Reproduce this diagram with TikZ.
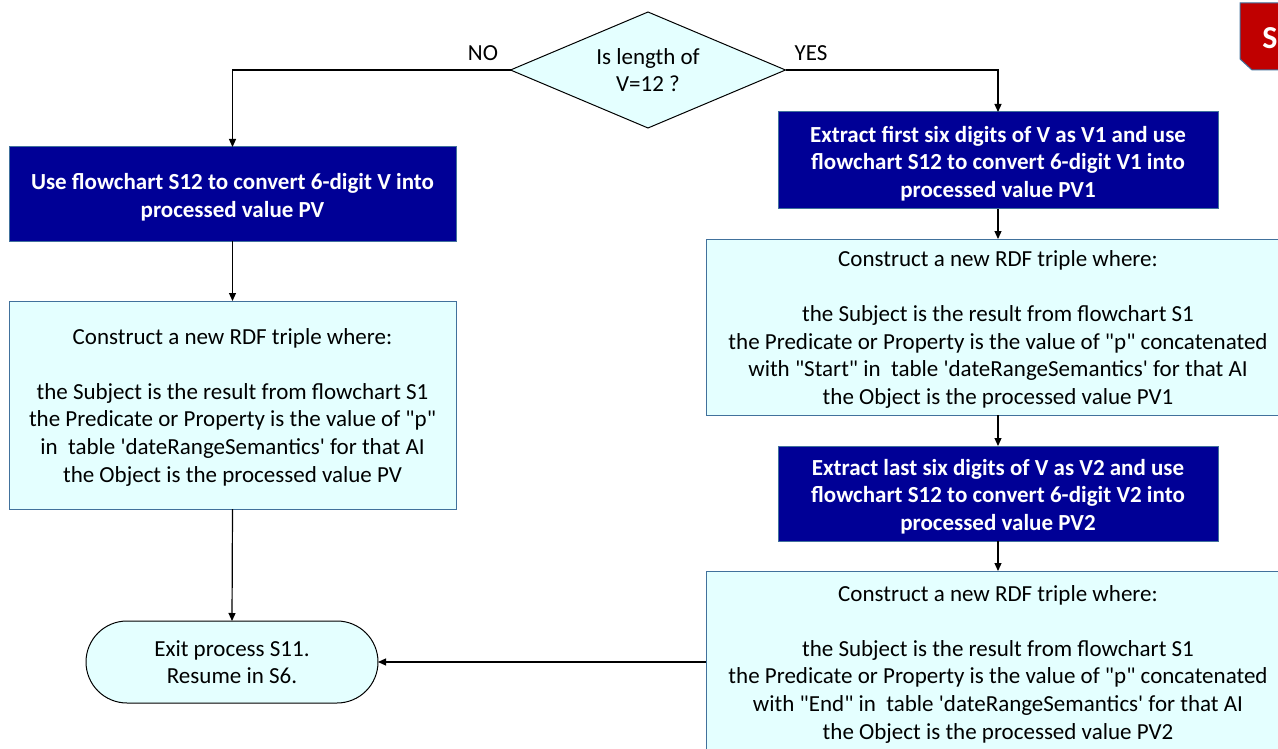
\documentclass[tikz,border=0pt]{standalone}
\usepackage{fontspec}
\setmainfont{Carlito}[Ligatures=TeXOff]
\usetikzlibrary{shapes.geometric,arrows.meta}
\definecolor{dkblue}{RGB}{0,0,150}
\definecolor{edge}{RGB}{65,113,156}
\definecolor{lite}{RGB}{228,255,255}
\definecolor{redbox}{RGB}{192,0,0}
\tikzset{
  every node/.style={inner sep=0pt, outer sep=0pt},
  txt/.style={font=\fontsize{23}{27.6}\selectfont, align=center},
  darkbox/.style={draw=edge, line width=1pt, fill=dkblue},
  boldtxt/.style={text=white, align=center, font=\fontsize{23}{27.6}\selectfont\bfseries},
  litebox/.style={draw=edge, line width=1pt, fill=lite, txt},
  conn/.style={line width=1.2pt, -{Triangle[length=8pt,width=7pt]}},
}
\begin{document}
\begin{tikzpicture}[x=1pt,y=-1pt]
\useasboundingbox (0,0) rectangle (1278,749);
\clip (0,0) rectangle (1278,749);
% red corner tab
\filldraw[fill=redbox, draw=edge, line width=1pt] (1240,3) -- (1300,3) -- (1300,70) -- (1252,70) -- (1240,59) -- cycle;
\node[text=white, font=\fontsize{32}{36}\selectfont\bfseries] (stab) at (1270,38) {S};
% diamond
\node[diamond, aspect=2.37, draw=black, line width=1pt, fill=lite, minimum width=275pt, minimum height=116pt, txt] (dec) at (648,70) {Is length of\\V=12 ?};
\node[txt] (no) at (483,53) {NO};
\node[txt] (yes) at (811,53) {YES};
% left branch
\node[darkbox, minimum width=447pt, minimum height=94pt] (l1) at (232.5,194) {};
\node[boldtxt] (l1t) at ([yshift=-3pt]l1.center) {Use flowchart S12 to convert 6-digit V into\\processed value PV};
\node[litebox, minimum width=447pt, minimum height=208pt] (l2) at (232.5,405) {};
\node[txt] (l2t) at ([yshift=-2pt]l2.center) {Construct a new RDF triple where:\\[27.6pt]the Subject is the result from flowchart S1\\the Predicate or Property is the value of "p"\\in~ table 'dateRangeSemantics' for that AI\\the Object is the processed value PV};
\node[draw=black, line width=1pt, fill=lite, rounded corners=41pt, minimum width=292pt, minimum height=82pt, txt] (exit) at (232,662) {Exit process S11.\\Resume in S6.};
% right branch
\node[darkbox, minimum width=440pt, minimum height=97pt] (r1) at (998,160.5) {};
\node[boldtxt] (r1t) at ([yshift=-3pt]r1.center) {Extract first six digits of V as V1 and use\\flowchart S12 to convert 6-digit V1 into\\processed value PV1};
\node[litebox, minimum width=584pt, minimum height=176pt] (r2) at (998,327) {};
\node[txt] (r2t) at ([yshift=-2.5pt]r2.center) {Construct a new RDF triple where:\\[27.6pt]the Subject is the result from flowchart S1\\the Predicate or Property is the value of "p" concatenated\\with "Start" in~ table 'dateRangeSemantics' for that AI\\the Object is the processed value PV1};
\node[darkbox, minimum width=440pt, minimum height=95pt] (r3) at (998,493.5) {};
\node[boldtxt] (r3t) at ([yshift=-3pt]r3.center) {Extract last six digits of V as V2 and use\\flowchart S12 to convert 6-digit V2 into\\processed value PV2};
\node[litebox, minimum width=584pt, minimum height=182pt] (r4) at (998,662) {};
\node[txt] (r4t) at ([yshift=-2pt]r4.center) {Construct a new RDF triple where:\\[27.6pt]the Subject is the result from flowchart S1\\the Predicate or Property is the value of "p" concatenated\\with "End" in~ table 'dateRangeSemantics' for that AI\\the Object is the processed value PV2};
% connectors
\draw[conn] (dec.west) -- (dec.west -| l1.north) -- (l1.north);
\draw[conn] (dec.east) -- (dec.east -| r1.north) -- (r1.north);
\draw[conn] (l1.south) -- (l2.north);
\draw[conn] (l2.south) -- (exit.north);
\draw[conn] (r1.south) -- (r2.north);
\draw[conn] (r2.south) -- (r3.north);
\draw[conn] (r3.south) -- (r4.north);
\draw[conn] (r4.west) -- (exit.east);
\end{tikzpicture}
\end{document}
